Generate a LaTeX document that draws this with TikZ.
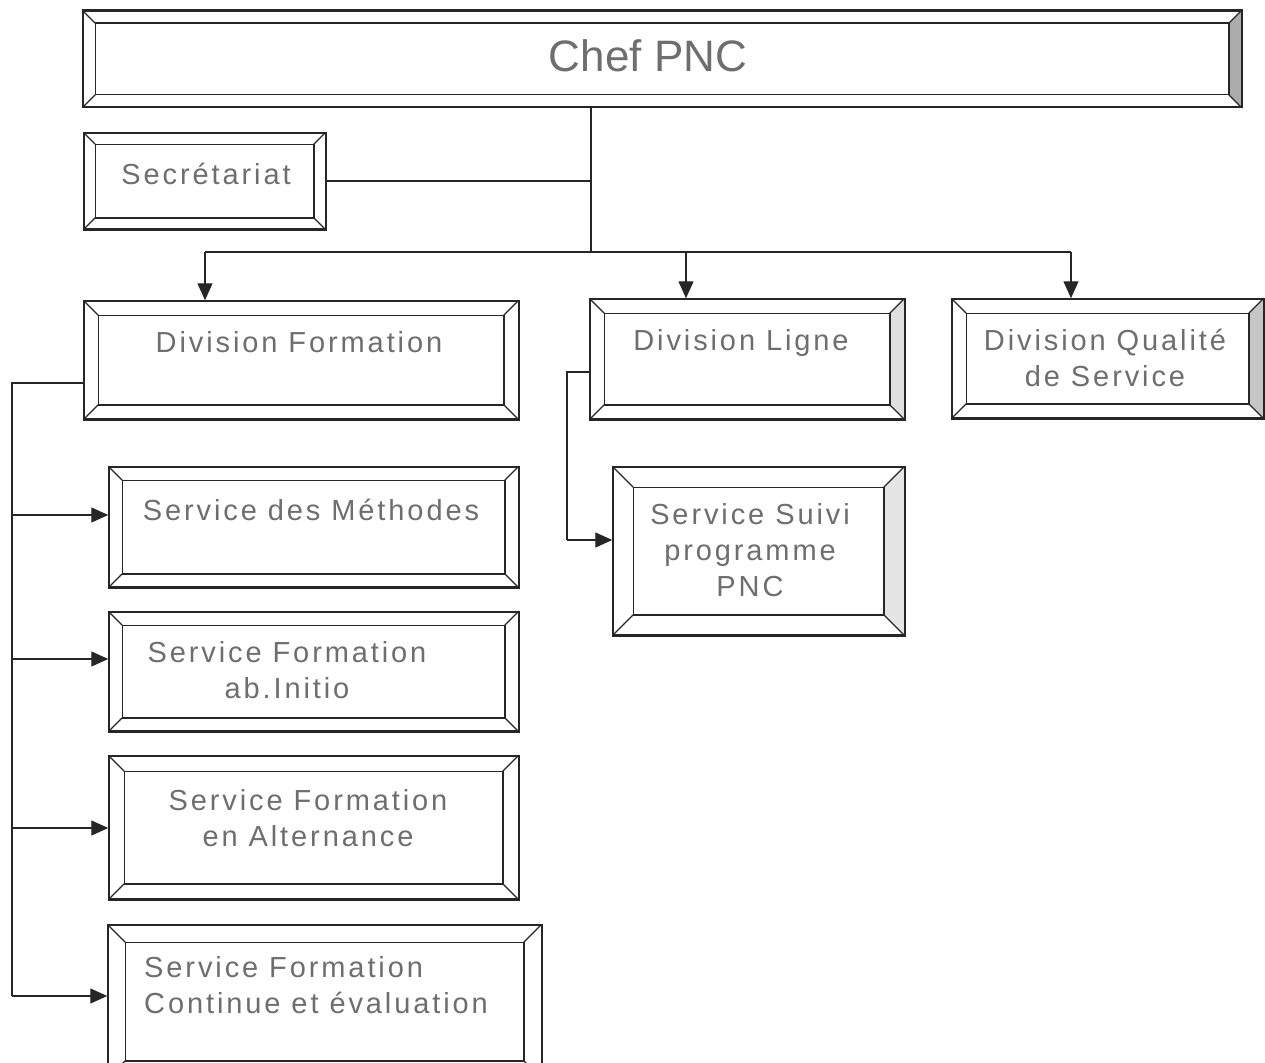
\documentclass[tikz,border=0pt]{standalone}
\usepackage{fontspec}
\setmainfont{Liberation Sans}
\usetikzlibrary{arrows.meta,calc}
\definecolor{txt}{HTML}{6E6E6E}
\tikzset{
  frame/.style={draw=black!85, line width=1.5pt, inner sep=0pt},
  conn/.style={draw=black!85, line width=1.3pt},
  arr/.style={conn, -{Triangle[length=17pt,width=15pt]}},
  lbl/.style={text=txt, align=center, inner sep=0pt,
    font=\fontsize{29}{36}\selectfont\addfontfeature{LetterSpace=10}},
}
% bevelled box: name, x1, y1, x2, y2, bevel depth, colour of the right bevel
\newcommand\bevelbox[7]{%
  \node[frame, minimum width={(#4-#2)*1pt}, minimum height={(#5-#3)*1pt}]
    (#1) at ({(#2+#4)/2},{(#3+#5)/2}) {};
  \fill[#7] (#1.north east) -- ([shift={(-#6,#6)}]#1.north east)
    -- ([shift={(-#6,-#6)}]#1.south east) -- (#1.south east) -- cycle;
  \draw[line width=1.5pt, black!85]
    ([shift={(#6,#6)}]#1.north west) rectangle ([shift={(-#6,-#6)}]#1.south east);
  \draw[line width=1.1pt, black!85]
    (#1.north west) -- ([shift={(#6,#6)}]#1.north west)
    (#1.north east) -- ([shift={(-#6,#6)}]#1.north east)
    (#1.south west) -- ([shift={(#6,-#6)}]#1.south west)
    (#1.south east) -- ([shift={(-#6,-#6)}]#1.south east);
  \draw[frame] (#1.north west) rectangle (#1.south east);
}
\begin{document}
\begin{tikzpicture}[x=1pt,y=-1pt]
\useasboundingbox (0,0) rectangle (1265,1062);
\clip (0,0) rectangle (1265,1062);
\fill[white] (0,0) rectangle (1265,1062);

% boxes
\bevelbox{chef}{83}{11}{1241}{107}{13}{gray!65}
\bevelbox{sec}{84}{133}{325}{229}{12}{white}
\bevelbox{divf}{84}{301}{518}{419}{15}{white}
\bevelbox{divl}{590}{299}{904}{419}{15}{gray!25}
\bevelbox{divq}{952}{299}{1263}{418}{15}{gray!45}
\bevelbox{smeth}{109}{467}{518}{587}{14}{white}
\bevelbox{sfab}{109}{612}{518}{731}{14}{white}
\bevelbox{salt}{109}{756}{518}{899}{16}{white}
\bevelbox{scont}{108}{925}{541}{1078}{18}{white}
\bevelbox{ssuivi}{613}{467}{904}{635}{21}{gray!20}

% labels
\node[lbl, font=\fontsize{44}{50}\selectfont] (tchef) at (648,56) {Chef PNC};
\node[lbl] (tsec) at (206,174) {Secrétariat};
\node[lbl] (tdivf) at (299,342) {Division Formation};
\node[lbl] (tdivl) at (741,343) {Division Ligne};
\node[lbl] (tdivq) at (1105,358) {Division Qualité\\de Service};
\node[lbl] (tsmeth) at (311,510) {Service des Méthodes};
\node[lbl] (tsfab) at (287,670) {Service Formation\\ab.Initio};
\node[lbl] (tsalt) at (308,818) {Service Formation\\en Alternance};
\node[lbl, align=left, anchor=west] (tscont) at (144,985) {Service Formation\\Continue et évaluation};
\node[lbl] (tssuivi) at (750,550) {Service Suivi\\programme\\PNC};

% connectors from the head
\coordinate (j1) at (591,181);
\coordinate (j2) at (591,252);
\coordinate (a1) at (205,252);
\coordinate (a2) at (686,252);
\coordinate (a3) at (1071,252);
\draw[conn] (chef.south -| j1) -- (j2);
\draw[conn] (sec.east) -- (sec.east -| j1);
\draw[conn] (a1) -- (a3);
\draw[arr] (a1) -- (a1 |- divf.north);
\draw[arr] (a2) -- (a2 |- divl.north);
\draw[arr] (a3) -- (a3 |- divq.north);

% Division Formation services
\coordinate (t0) at (12,383);
\coordinate (t1) at (12,515);
\coordinate (t2) at (12,659);
\coordinate (t3) at (12,828);
\coordinate (t4) at (12,996);
\draw[conn] (divf.west |- t0) -- (t0) -- (t4);
\draw[arr] (t1) -- (t1 -| smeth.west);
\draw[arr] (t2) -- (t2 -| sfab.west);
\draw[arr] (t3) -- (t3 -| salt.west);
\draw[arr] (t4) -- (t4 -| scont.west);

% Division Ligne service
\coordinate (l0) at (567,372);
\coordinate (l1) at (567,540);
\draw[conn] (divl.west |- l0) -- (l0) -- (l1);
\draw[arr] (l1) -- (l1 -| ssuivi.west);
\end{tikzpicture}
\end{document}
